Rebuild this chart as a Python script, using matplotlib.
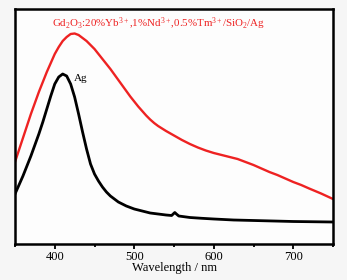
import matplotlib
matplotlib.use("Agg")
import matplotlib.pyplot as plt
from matplotlib.ticker import MultipleLocator

plt.rcParams['font.family'] = ['Liberation Serif', 'DejaVu Serif']
plt.rcParams['mathtext.fontset'] = 'custom'
plt.rcParams['mathtext.rm'] = 'Liberation Serif'
plt.rcParams['mathtext.it'] = 'Liberation Serif:italic'

# Red: Gd2O3:Yb,Nd,Tm/SiO2/Ag spectrum (arbitrary intensity)
red_wl = [350, 355, 360, 365, 370, 375, 380, 385, 390, 395, 400, 405, 410, 415, 420,
          425, 430, 435, 440, 445, 450, 455, 460, 465, 470, 475, 480, 485, 490, 495,
          500, 505, 510, 515, 520, 525, 530, 540, 550, 560, 570, 580, 590, 600, 610,
          620, 630, 640, 650, 660, 670, 680, 690, 700, 710, 720, 735, 750]
red_int = [82, 94, 106, 118, 130, 141, 152, 162, 172, 181, 190, 197, 203, 207, 210,
           210.5, 209, 206, 203, 199, 195, 190, 185, 180, 175, 169.5, 164, 158.5, 153, 147.5,
           142.5, 137.5, 133, 128.5, 124.5, 121, 118, 113, 108.5, 104, 100, 96.5, 93.5, 91, 89,
           87, 85, 82, 79, 75.5, 72, 69, 65.5, 62, 59, 55.5, 50.5, 45]

# Black: Ag spectrum
blk_wl = [350, 355, 360, 365, 370, 375, 380, 385, 390, 395, 400, 405, 410, 415, 420,
          425, 430, 435, 440, 445, 450, 455, 460, 465, 470, 480, 490, 500, 510, 520,
          530, 540, 547, 549, 551, 553, 556, 570, 585, 600, 625, 650, 700, 750]
blk_int = [50, 59, 68, 78, 88, 99, 110, 122, 135, 148, 160, 167, 170, 168, 160,
           147, 130, 112, 95, 80, 70, 63, 57, 52, 48, 42, 38, 35, 33, 31,
           30, 29, 28.5, 30, 31.5, 30, 28, 26.5, 25.7, 25, 24, 23.5, 22.5, 22]

xticks = [400, 500, 600, 700]

fig = plt.figure(figsize=(3.47, 2.80), dpi=100, facecolor='#f6f6f6')
ax = fig.add_axes([15/347, 1-244/280, (333-15)/347, (244-9)/280])
ax.set_facecolor('#fdfdfd')

ax.plot(red_wl, red_int, color='#ee2222', lw=1.7, solid_joinstyle='round')
ax.plot(blk_wl, blk_int, color='black', lw=2.0, solid_joinstyle='round')

ax.set_xlim(350, 750)
ax.set_ylim(0, 235)
ax.set_yticks([])
ax.set_xticks(xticks)
ax.xaxis.set_minor_locator(MultipleLocator(50))
ax.tick_params(axis='x', which='major', direction='out', length=3.5, width=1.3,
               labelsize=9, pad=1.5)
ax.tick_params(axis='x', which='minor', direction='out', length=2.5, width=1.3)
for s in ax.spines.values():
    s.set_linewidth(1.8)

ax.set_xlabel('Wavelength / nm', fontsize=9, labelpad=-1)

ax.text(397, 217, r'Gd$_2$O$_3$:20%Yb$^{3+}$,1%Nd$^{3+}$,0.5%Tm$^{3+}$/SiO$_2$/Ag',
        color='#ee2222', fontsize=7.9, ha='left', va='baseline')
ax.text(424, 163, 'Ag', color='black', fontsize=8, ha='left', va='baseline')

fig.savefig('out.png', dpi=100, facecolor=fig.get_facecolor())
